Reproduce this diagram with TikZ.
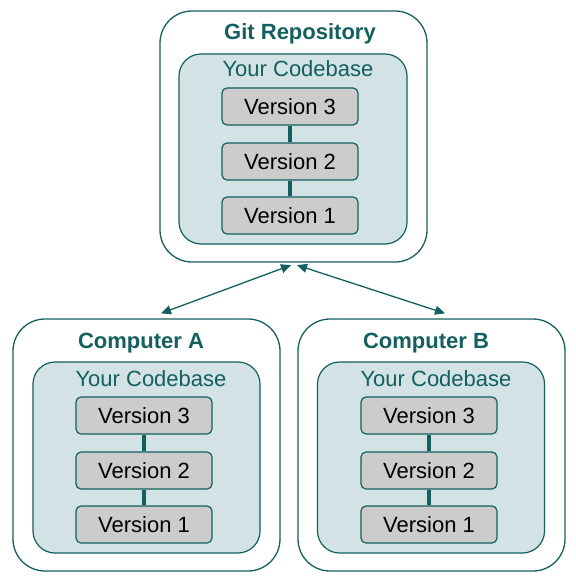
\documentclass[tikz,border=0pt]{standalone}
\usepackage{fontspec}
\setmainfont{Liberation Sans}
\usetikzlibrary{arrows.meta,calc}
\definecolor{tealA}{HTML}{145F5F}
\definecolor{cbfill}{HTML}{D3E2E4}
\definecolor{vfill}{HTML}{CCCCCC}
\tikzset{
 outerbox/.style={draw=tealA, line width=1.3pt, rounded corners=32pt, fill=white, minimum width=267pt, minimum height=251pt, inner sep=0pt},
 cbbox/.style={draw=tealA, line width=1.2pt, rounded corners=22pt, fill=cbfill, minimum width=228pt, minimum height=190pt, inner sep=0pt},
 vbox/.style={draw=tealA, line width=1.2pt, rounded corners=5pt, fill=vfill, minimum width=136pt, minimum height=37pt, inner sep=0pt, font=\fontsize{22}{26}\selectfont, text=black},
 titletext/.style={anchor=base, inner sep=0pt, font=\fontsize{22}{26}\selectfont\bfseries, text=tealA},
 cbtext/.style={anchor=base, inner sep=0pt, font=\fontsize{22}{26}\selectfont, text=tealA},
 vlink/.style={draw=tealA, line width=4pt},
 sync/.style={draw=tealA, line width=1.3pt, {Triangle[length=10pt,width=9pt]}-{Triangle[length=10pt,width=9pt]}}
}
\begin{document}
\begin{tikzpicture}[x=1pt,y=-1pt]
\useasboundingbox (0,0) rectangle (575,580);
% Git repository
\node[outerbox] (git) at (293.5,136.5) {};
\node[titletext] (gittitle) at (300,40) {Git Repository};
\node[cbbox] (gitcb) at (293,149) {};
\node[cbtext] (gitcbt) at (298,77) {Your Codebase};
\node[vbox] (g3) at (290,106.5) {Version 3};
\node[vbox] (g2) at (290,161.5) {Version 2};
\node[vbox] (g1) at (290,215.5) {Version 1};
\draw[vlink] (g3) -- (g2);
\draw[vlink] (g2) -- (g1);
% Computer A
\node[outerbox, minimum height=252pt] (ca) at (146.5,445) {};
\node[titletext] (catitle) at (141,348) {Computer A};
\node[cbbox, minimum width=227pt, minimum height=191pt] (cacb) at (146.5,457.5) {};
\node[cbtext] (cacbt) at (151,386) {Your Codebase};
\node[vbox] (a3) at (144,415.5) {Version 3};
\node[vbox] (a2) at (144,470.5) {Version 2};
\node[vbox] (a1) at (144,524.5) {Version 1};
\draw[vlink] (a3) -- (a2);
\draw[vlink] (a2) -- (a1);
% Computer B
\node[outerbox, minimum height=252pt] (cb) at (431.5,445) {};
\node[titletext] (cbtitle) at (426,348) {Computer B};
\node[cbbox, minimum width=227pt, minimum height=191pt] (cbcb) at (431,457.5) {};
\node[cbtext] (cbcbt) at (436,386) {Your Codebase};
\node[vbox] (b3) at (429,415.5) {Version 3};
\node[vbox] (b2) at (429,470.5) {Version 2};
\node[vbox] (b1) at (429,524.5) {Version 1};
\draw[vlink] (b3) -- (b2);
\draw[vlink] (b2) -- (b1);
% sync arrows
\coordinate (gitL) at ($(git.south)+(-2.5,2.5)$);
\coordinate (gitR) at ($(git.south)+(3.5,2.5)$);
\coordinate (caT) at ($(ca.north)+(14.5,-5)$);
\coordinate (cbT) at ($(cb.north)+(13.5,-5)$);
\draw[sync] (caT) -- (gitL);
\draw[sync] (gitR) -- (cbT);
\end{tikzpicture}
\end{document}
